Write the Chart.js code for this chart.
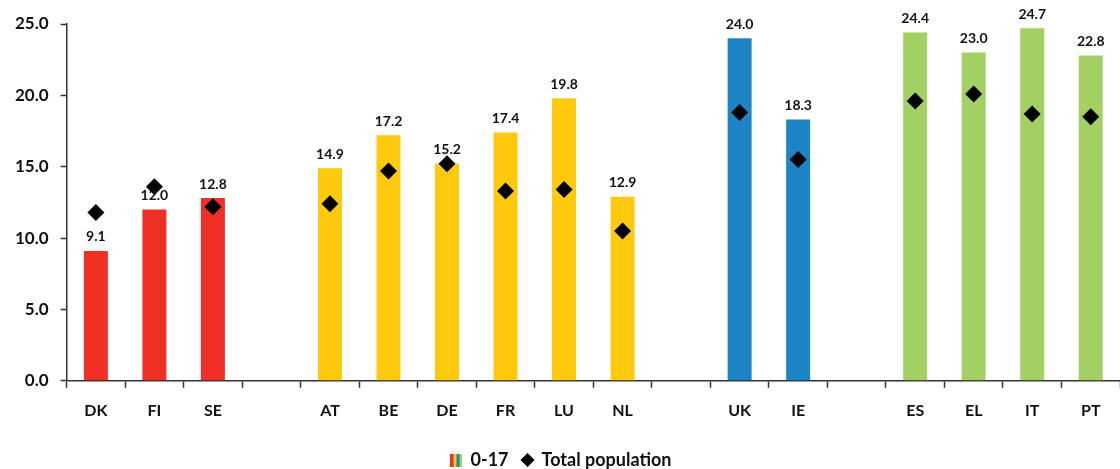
<!DOCTYPE html>
<html>
<head>
<meta charset="utf-8">
<script src="https://cdn.jsdelivr.net/npm/chart.js@4.4.1/dist/chart.umd.min.js"></script>
<style>
  html, body { margin: 0; padding: 0; background: #fff; }
  #wrap { width: 1120px; height: 469px; }
</style>
</head>
<body>
<div id="wrap"><canvas id="chart"></canvas></div>
<script>
// Country groups, with empty slots between them
const categories = ['DK', 'FI', 'SE', '', 'AT', 'BE', 'DE', 'FR', 'LU', 'NL', '', 'UK', 'IE', '', 'ES', 'EL', 'IT', 'PT'];
const childRate = [9.1, 12.0, 12.8, null, 14.9, 17.2, 15.2, 17.4, 19.8, 12.9, null, 24.0, 18.3, null, 24.4, 23.0, 24.7, 22.8];
const totalRate = [11.8, 13.6, 12.2, null, 12.4, 14.7, 15.2, 13.3, 13.4, 10.5, null, 18.8, 15.5, null, 19.6, 20.1, 18.7, 18.5];
const groupColors = ['#EE3124', '#FFC90D', '#1D84C6', '#A2D063'];
const barGroup = [0, 0, 0, null, 1, 1, 1, 1, 1, 1, null, 2, 2, null, 3, 3, 3, 3];
const yTicks = [0, 5, 10, 15, 20, 25];

const FONT = 'Lato';

// striped swatch used as the legend icon for the bars
function stripeIcon() {
  const c = document.createElement('canvas');
  c.width = 12;
  c.height = 13;
  const g = c.getContext('2d');
  groupColors.forEach((col, i) => {
    g.fillStyle = col;
    g.fillRect(i * 3, 0, 3, 13);
  });
  return c;
}

// value labels above each bar
const barLabels = {
  id: 'barLabels',
  afterDatasetsDraw(chart) {
    const ctx = chart.ctx;
    const meta = chart.getDatasetMeta(0);
    ctx.save();
    ctx.font = 'bold 14px ' + FONT;
    ctx.fillStyle = '#111';
    ctx.textAlign = 'center';
    ctx.textBaseline = 'bottom';
    meta.data.forEach((bar, i) => {
      if (childRate[i] == null) return;
      ctx.fillText(childRate[i].toFixed(1), bar.x, bar.y - 7);
    });
    ctx.restore();
  }
};

new Chart(document.getElementById('chart'), {
  data: {
    labels: categories,
    datasets: [
      {
        type: 'bar',
        label: '0-17',
        data: childRate,
        backgroundColor: barGroup.map((g) => (g == null ? 'transparent' : groupColors[g])),
        barPercentage: 0.82,
        categoryPercentage: 0.5,
        pointStyle: stripeIcon(),
        order: 2,
      },
      {
        type: 'line',
        label: 'Total population',
        data: totalRate,
        showLine: false,
        pointStyle: 'rectRot',
        pointRadius: 8.5,
        pointHoverRadius: 8.5,
        backgroundColor: '#000',
        borderColor: '#000',
        borderWidth: 0,
        order: 1,
      },
    ],
  },
  options: {
    responsive: true,
    maintainAspectRatio: false,
    animation: false,
    layout: { autoPadding: false, padding: { left: 3, right: 0, top: 24, bottom: -10 } },
    plugins: {
      tooltip: { enabled: false },
      legend: {
        position: 'bottom',
        labels: {
          usePointStyle: true,
          boxWidth: 10,
          boxHeight: 10,
          padding: 14,
          color: '#111',
          sort: (a, b) => a.datasetIndex - b.datasetIndex,
          font: { family: FONT, size: 18, weight: 'bold' },
        },
      },
    },
    scales: {
      x: {
        afterFit(axis) {
          axis.height += 4;
        },
        grid: {
          offset: true,
          drawOnChartArea: false,
          drawTicks: true,
          tickLength: 7,
          tickColor: '#333',
          tickWidth: 1.5,
        },
        border: { color: '#333', width: 1.5 },
        ticks: {
          color: '#111',
          padding: 13,
          autoSkip: false,
          maxRotation: 0,
          font: { family: FONT, size: 16, weight: 'bold' },
        },
      },
      y: {
        min: 0,
        max: 25,
        afterBuildTicks(axis) {
          axis.ticks = yTicks.map((v) => ({ value: v }));
        },
        grid: {
          drawOnChartArea: false,
          drawTicks: true,
          tickLength: 6,
          tickColor: '#333',
          tickWidth: 1.5,
        },
        border: { color: '#333', width: 1.5 },
        ticks: {
          color: '#111',
          padding: 12,
          callback: (v) => Number(v).toFixed(1),
          font: { family: FONT, size: 17, weight: 'bold' },
        },
      },
    },
  },
  plugins: [barLabels],
});
</script>
</body>
</html>
